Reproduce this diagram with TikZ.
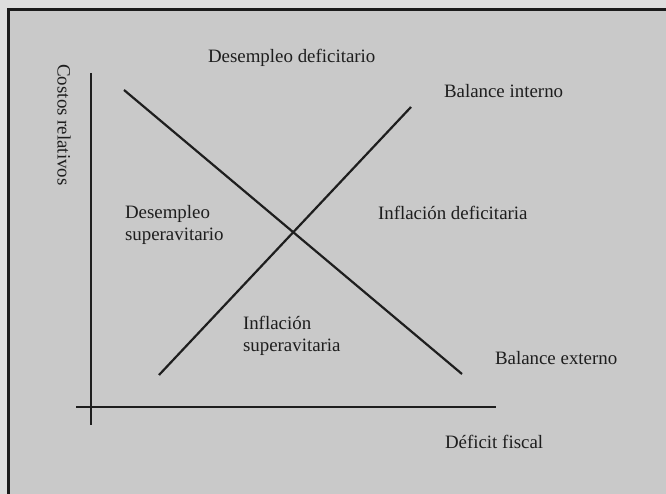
\documentclass[tikz,border=0pt]{standalone}
\usepackage{fontspec}
\setmainfont{Liberation Serif}
\definecolor{paperout}{RGB}{222,222,222}
\definecolor{paperin}{RGB}{201,201,201}
\definecolor{ink}{RGB}{30,30,30}
\begin{document}
\begin{tikzpicture}[x=1pt,y=-1pt,
  lbl/.style={inner sep=0pt,outer sep=0pt,text=ink,font=\fontsize{18.9}{22.7}\selectfont,align=left},
  axisline/.style={draw=ink,line width=2pt},
  curveline/.style={draw=ink,line width=2.2pt},
  frameline/.style={draw=ink!90!black,line width=3pt}]
\useasboundingbox (0,0) rectangle (666,494);
\fill[paperout] (0,0) rectangle (666,494);
\fill[paperin] (8,10) rectangle (666,494);
\draw[frameline] (8,494) -- (8,10) -- (666,10);
% axes
\coordinate (ytop) at (91,73);
\coordinate (ybot) at (91,425);
\coordinate (xl) at (76,407);
\coordinate (xr) at (496,407);
\draw[axisline] (ytop) -- (ybot);
\draw[axisline] (xl) -- (xr);
% curves
\coordinate (ea) at (124,90);
\coordinate (eb) at (462,374);
\coordinate (ia) at (159,375);
\coordinate (ib) at (411,107);
\draw[curveline] (ea) -- (eb);
\draw[curveline] (ia) -- (ib);
% labels
\node[lbl,anchor=west] (dd) at (208,58) {Desempleo deficitario};
\node[lbl,anchor=west] (bi) at (444,91) {Balance interno};
\node[lbl,anchor=west] (ds) at (125,225) {Desempleo\\superavitario};
\node[lbl,anchor=west] (idf) at (378,213) {Inflación deficitaria};
\node[lbl,anchor=west] (isv) at (243,336) {Inflación\\superavitaria};
\node[lbl,anchor=west] (be) at (495,358) {Balance externo};
\node[lbl,anchor=west] (df) at (445,442) {Déficit fiscal};
\node[lbl,rotate=-90] (cr) at (64,125) {Costos relativos};
\end{tikzpicture}
\end{document}
